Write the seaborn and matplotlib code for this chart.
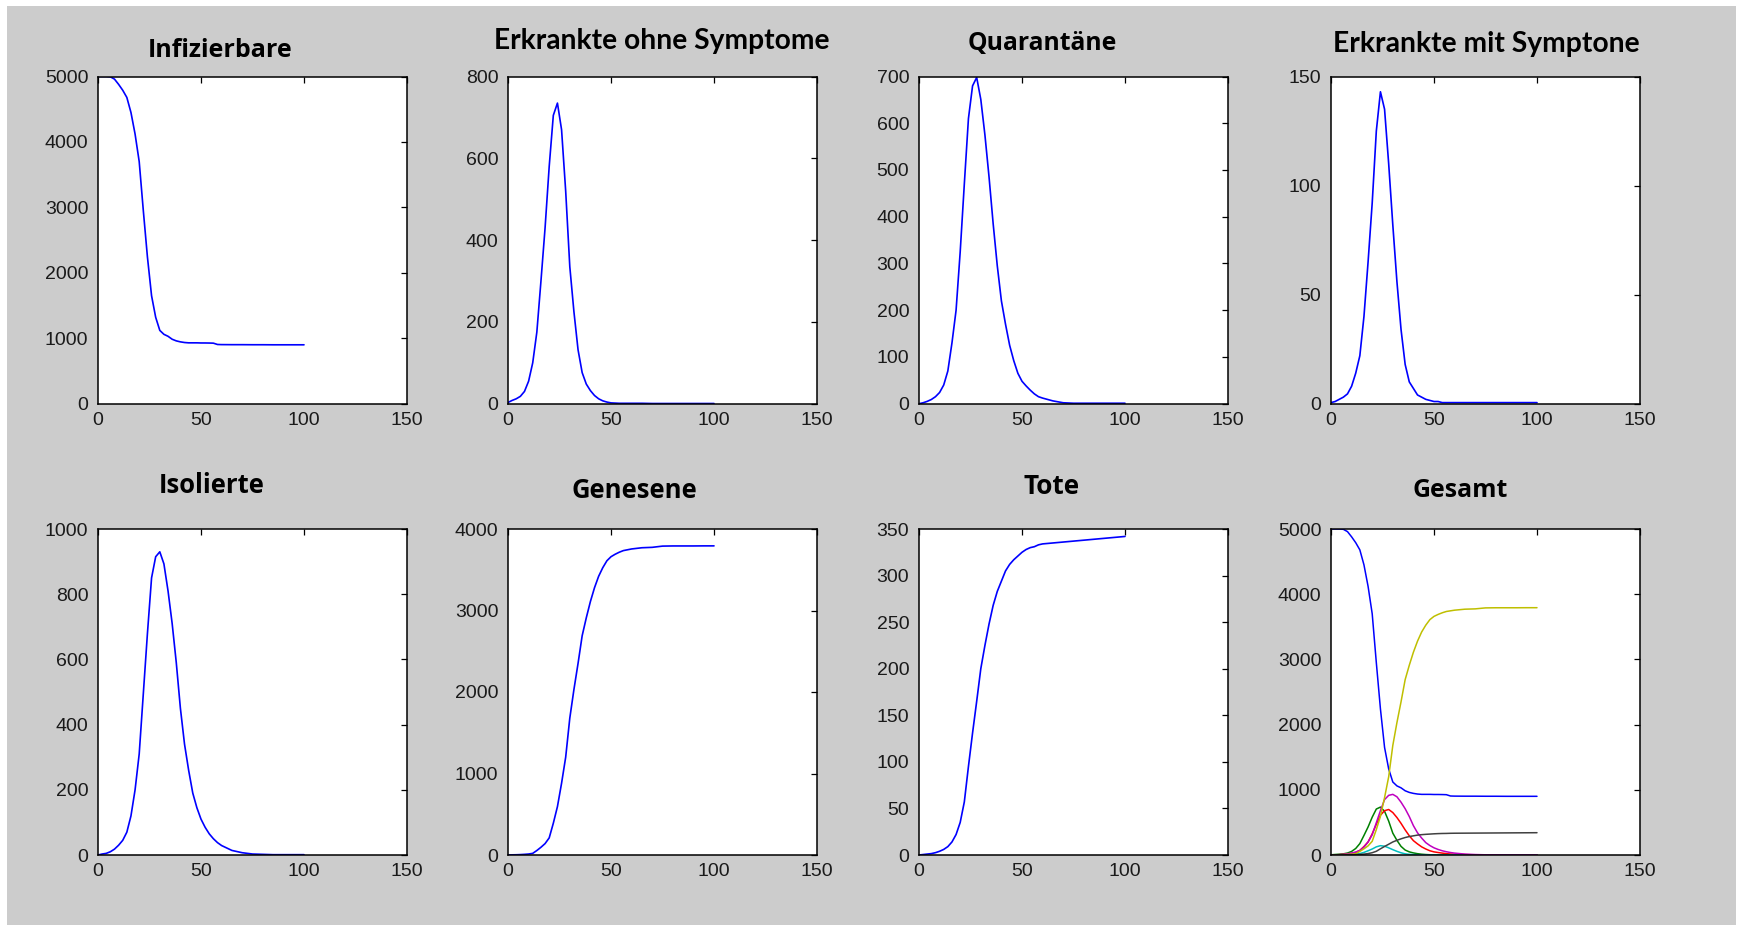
import numpy as np
import pandas as pd
import matplotlib
matplotlib.use("Agg")
import matplotlib.pyplot as plt
import seaborn as sns
from matplotlib.patches import Rectangle

# ---------------- data ----------------
days = [0, 2, 4, 6, 8, 10, 12, 14, 16, 18, 20, 22, 24, 26, 28, 30, 32, 34, 36, 38,
        40, 42, 44, 46, 48, 50, 52, 54, 56, 58, 60, 65, 70, 75, 80, 85, 90, 95, 100]

infizierbare = [5000, 5000, 5000, 4995, 4960, 4880, 4790, 4680, 4450, 4120, 3700, 2950, 2240, 1650,
                1320, 1120, 1060, 1030, 985, 960, 945, 935, 930, 930, 930, 928, 928, 927, 925, 905,
                903, 902, 902, 901, 901, 900, 900, 900, 900]
ohne_symptome = [3, 8, 12, 18, 30, 55, 100, 175, 300, 430, 580, 705, 735, 670, 520, 335, 225, 132, 76, 48,
                 32, 20, 12, 7, 4, 2, 1.5, 1, 1, 1, 1, 1, 0.5, 0.5, 0.5, 0.5, 0.5, 0.5, 0.5]
quarantaene = [0, 2, 5, 9, 15, 24, 40, 70, 130, 200, 325, 470, 610, 680, 698, 651, 575, 485, 385, 295,
               220, 170, 125, 92, 65, 48, 38, 29, 21, 15, 12, 6, 2, 1, 1, 1, 1, 1, 1]
mit_symptomen = [0.5, 1, 2, 3, 4.5, 8, 14, 22, 40, 65, 92, 125, 143, 135, 110, 82, 56, 34, 18, 10,
                 7, 4, 3, 2, 1.5, 1, 1, 0.5, 0.5, 0.5, 0.5, 0.5, 0.5, 0.5, 0.5, 0.5, 0.5, 0.5, 0.5]
isolierte = [0, 3, 5, 10, 18, 30, 45, 70, 120, 200, 310, 495, 680, 850, 915, 930, 893, 810, 710, 590,
             450, 340, 260, 190, 145, 110, 85, 65, 50, 38, 29, 14, 7, 3, 2, 1, 1, 1, 1]
genesene = [0, 2, 3, 5, 8, 12, 20, 55, 95, 140, 210, 390, 594, 880, 1200, 1680, 2030, 2350, 2690, 2910,
            3110, 3280, 3420, 3525, 3610, 3660, 3690, 3715, 3735, 3745, 3755, 3770, 3775, 3790, 3792,
            3792, 3792, 3793, 3793]
tote = [0, 0.5, 1, 1.5, 2.5, 4, 6, 9, 14, 22, 35, 57, 95, 131, 165, 200, 225, 248, 268, 283,
        294, 305, 312, 317, 321, 325, 328, 330, 331, 333, 334, 335, 336, 337, 338, 339, 340, 341, 342]

titles = ["Infizierbare", "Erkrankte ohne Symptome", "Quarantäne", "Erkrankte mit Symptone",
          "Isolierte", "Genesene", "Tote", "Gesamt"]
series = [infizierbare, ohne_symptome, quarantaene, mit_symptomen, isolierte, genesene, tote]
y_limits = [5000, 800, 700, 150, 1000, 4000, 350, 5000]
y_steps = [1000, 200, 100, 50, 200, 1000, 50, 1000]
x_ticks = [0, 50, 100, 150]

# old MATLAB colour order
colors = [(0, 0, 1), (0, 0.5, 0), (1, 0, 0), (0, 0.75, 0.75), (0.75, 0, 0.75),
          (0.75, 0.75, 0), (0.25, 0.25, 0.25)]

# ---------------- figure ----------------
W, H = 1739, 925
sns.set_style("white")
plt.rcParams["font.family"] = ["Liberation Sans", "DejaVu Sans"]

fig = plt.figure(figsize=(W / 100, H / 100), dpi=100)
fig.patch.set_facecolor("white")
fig.patches.append(Rectangle((7 / W, 0), (1736 - 7) / W, 1 - 6 / H,
                             transform=fig.transFigure, facecolor="#cccccc",
                             edgecolor="none", zorder=-10))

col_left = [98, 508, 919, 1331]
col_w = 309
row_top = [76.5, 529]
row_bot = [403.7, 855]

axes = []
for i in range(8):
    r, c = divmod(i, 4)
    ax = fig.add_axes([col_left[c] / W, 1 - row_bot[r] / H, col_w / W, (row_bot[r] - row_top[r]) / H])
    axes.append(ax)

for i, ax in enumerate(axes):
    if i < 7:
        df = pd.DataFrame({"Tag": days, "Wert": series[i]})
        sns.lineplot(data=df, x="Tag", y="Wert", ax=ax, color=(0, 0, 1), linewidth=1.2)
    else:
        frames = []
        for k, s in enumerate(series):
            frames.append(pd.DataFrame({"Tag": days, "Wert": s, "Gruppe": titles[k]}))
        long = pd.concat(frames, ignore_index=True)
        pal = {titles[k]: colors[k] for k in range(7)}
        sns.lineplot(data=long, x="Tag", y="Wert", hue="Gruppe", palette=pal, ax=ax,
                     linewidth=1.1, legend=False, estimator=None, sort=False)
    ax.set_facecolor("white")
    ax.set_xlim(0, 150)
    ax.set_ylim(0, y_limits[i])
    ax.set_xticks(x_ticks)
    ax.set_yticks(np.arange(0, y_limits[i] + 1, y_steps[i]))
    ax.set_xlabel("")
    ax.set_ylabel("")
    for sp in ax.spines.values():
        sp.set_visible(True)
        sp.set_color("black")
        sp.set_linewidth(1.1)
    ax.tick_params(direction="in", length=4, width=0.9, top=True, right=True,
                   labelsize=14, colors="black", labelcolor="#1a1a1a", pad=6)
    ax.tick_params(axis="y", pad=7)

# titles placed where they appear in the reference
fig.canvas.draw()
renderer = fig.canvas.get_renderer()
title_pos = [(220, 57, 145, "Open Sans"), (662, 49, 335, "Lato"), (1042, 50, 149, "Open Sans"),
             (1486, 52, 307, "Lato"), (212, 493, 106, "Open Sans"), (634, 498, 126, "Open Sans"),
             (1052, 494, 57, "Open Sans"), (1460, 497, 95, "Open Sans")]
for t, (cx, by, wpx, fam) in zip(titles, title_pos):
    txt = fig.text(cx / W, 1 - by / H, t, ha="center", va="baseline", fontweight="bold",
                   family=fam, fontsize=16, color="black")
    bb = txt.get_window_extent(renderer)
    txt.set_fontsize(16 * wpx / bb.width)

fig.savefig("out.png", dpi=100, facecolor=fig.get_facecolor())
